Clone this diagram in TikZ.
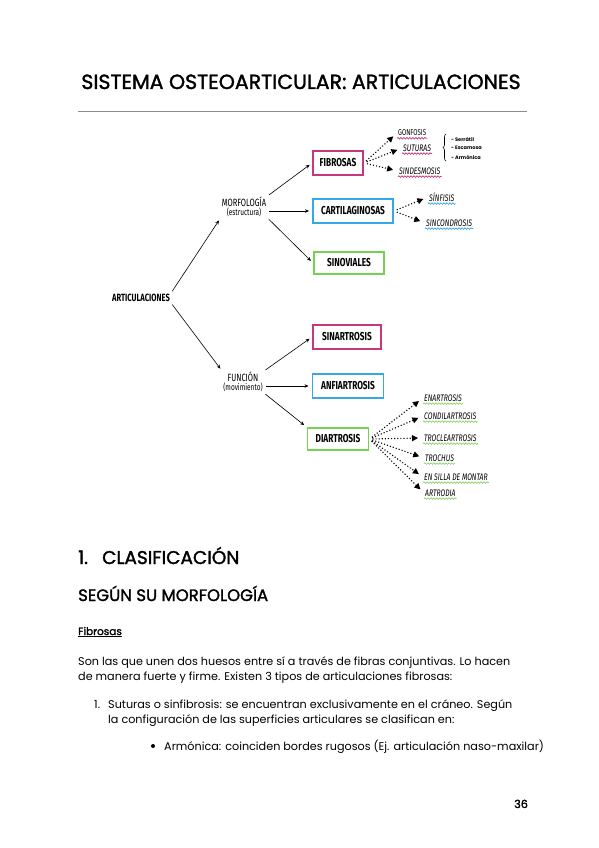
\documentclass[tikz,border=0pt]{standalone}
\usepackage{fontspec}
\setmainfont{Poppins}
\newfontfamily\medfont[FakeBold=1.6]{Poppins}
\newfontfamily\diagfont[FakeStretch=0.72]{Fira Sans}
\usepackage{tikz}
\usetikzlibrary{positioning,arrows.meta,decorations.pathmorphing,decorations.pathreplacing}
\definecolor{fuc}{HTML}{C8367E}
\definecolor{cel}{HTML}{35A9E8}
\definecolor{ver}{HTML}{74D24F}
\definecolor{verclaro}{HTML}{8BD86A}

\begin{document}
\begin{tikzpicture}[x=1pt,y=-1pt,
  caja/.style={draw=#1,line width=1.9pt,font=\diagfont\bfseries\fontsize{11.5}{12}\selectfont,inner xsep=3pt,minimum height=24pt},
  rama/.style={font=\diagfont\fontsize{10.5}{10}\selectfont,align=center,inner sep=1pt},
  tipo/.style={font=\diagfont\itshape\fontsize{9.5}{10}\selectfont,inner sep=1pt,anchor=west},
  flecha/.style={-{Stealth[length=4pt,width=3.5pt]},line width=0.6pt,shorten >=3pt,shorten <=2pt},
  punteada/.style={dotted,line width=1.1pt,-{Triangle[length=6pt,width=6pt]},shorten >=5pt,shorten <=3pt},
  onda/.style={draw=#1,line width=0.7pt,decorate,decoration={snake,amplitude=0.8pt,segment length=3pt}},
  mini/.style={anchor=west,inner sep=0pt,font=\fontsize{5}{6}\selectfont\bfseries},
  texto/.style={anchor=base west,inner sep=0pt,font=\fontsize{11.2}{13}\selectfont}]
  \fill[white] (0,0) rectangle (599,848);
  \useasboundingbox (0,0) rectangle (599,848);
  % encabezado
  \node[anchor=base,font=\medfont\fontsize{20.5}{24}\selectfont,inner sep=0pt] (titulo) at (301,89) {SISTEMA OSTEOARTICULAR: ARTICULACIONES};
  \draw[black!45,line width=0.9pt] (78,111) -- (527,111);
  % esquema
  \node[font=\diagfont\bfseries\fontsize{10.5}{11}\selectfont,inner sep=1pt] (art) at (141,298) {ARTICULACIONES};
  \node[rama] (mor) at (244,207) {MORFOLOGÍA\\[-1.5pt]{\fontsize{9}{9}\selectfont(estructura)}};
  \node[rama] (fun) at (243,382) {FUNCIÓN\\[-1.5pt]{\fontsize{9}{9}\selectfont(movimiento)}};
  \node[caja=fuc,minimum width=50pt] (fib) at (338,163) {FIBROSAS};
  \node[caja=cel,minimum width=80pt] (car) at (353,211) {CARTILAGINOSAS};
  \node[caja=ver,minimum width=70pt,minimum height=22pt] (sinov) at (349,263) {SINOVIALES};
  \node[caja=fuc,minimum width=68pt] (sinar) at (347,337) {SINARTROSIS};
  \node[caja=cel,minimum width=71pt] (anf) at (348,386) {ANFIARTROSIS};
  \node[caja=ver,minimum width=61pt,minimum height=22pt] (dia) at (338,439) {DIARTROSIS};
  \draw[flecha] (art.north east) -- (mor.south west);
  \draw[flecha] (art.south east) -- (fun.north west);
  \draw[flecha] (mor.north east) -- (fib.west);
  \draw[flecha] (mor.east |- car.west) -- (car.west);
  \draw[flecha] (mor.south east) -- (sinov.west);
  \draw[flecha] (fun.north east) -- (sinar.west);
  \draw[flecha] (fun.east |- anf.west) -- (anf.west);
  \draw[flecha] (fun.south east) -- (dia.north west);
  % tipos de fibrosas
  \node[tipo,font=\diagfont\fontsize{8.5}{9}\selectfont] (gon) at (397,133) {GONFOSIS};
  \node[tipo] (sut) at (402,148) {SUTURAS};
  \node[tipo] (sind) at (398,171) {SINDESMOSIS};
  \draw[decorate,decoration={brace,amplitude=3pt},line width=0.6pt] (446,161) -- (446,134);
  \node[mini] (ser) at (451,139) {- Serrátil};
  \node[mini] (esc) at (451,148) {- Escamosa};
  \node[mini] (arm) at (451,157) {- Armónica};
  \foreach \n in {gon,sut,sind}{
    \draw[onda=fuc] ([yshift=-1pt]\n.south west) -- ([yshift=-1pt]\n.south east);
    \draw[punteada] (fib.east) -- (\n.west);}
  % tipos de cartilaginosas
  \node[tipo] (sinf) at (428,197) {SÍNFISIS};
  \node[tipo] (sinc) at (425,223) {SINCONDROSIS};
  \foreach \n in {sinf,sinc}{
    \draw[onda=cel] ([yshift=-1pt]\n.south west) -- ([yshift=-1pt]\n.south east);
    \draw[punteada] (car.east) -- (\n.west);}
  % tipos de diartrosis
  \node[tipo] (ena) at (423,398) {ENARTROSIS};
  \node[tipo] (con) at (423,416) {CONDILARTROSIS};
  \node[tipo] (tro) at (423,438) {TROCLEARTROSIS};
  \node[tipo] (trc) at (424,458) {TROCHUS};
  \node[tipo] (sil) at (423,477) {EN SILLA DE MONTAR};
  \node[tipo] (atr) at (424,493) {ARTRODIA};
  \foreach \n in {ena,con,tro,trc,sil,atr}{
    \draw[onda=verclaro] ([yshift=-1pt]\n.south west) -- ([yshift=-1pt]\n.south east);
    \draw[punteada] (dia.east) -- (\n.west);}
  % texto
  \node[texto,font=\medfont\fontsize{18.5}{20}\selectfont] (num) at (78,564) {1.};
  \node[texto,font=\medfont\fontsize{18.5}{20}\selectfont] (clas) at (102,564) {CLASIFICACIÓN};
  \node[texto,font=\medfont\fontsize{16.5}{20}\selectfont] (seg) at (78,601) {SEGÚN SU MORFOLOGÍA};
  \node[texto,font=\medfont\fontsize{10.5}{13}\selectfont] (fibt) at (78,635) {\underline{Fibrosas}};
  \node[texto] (p1) at (78,665) {Son las que unen dos huesos entre sí a través de fibras conjuntivas. Lo hacen};
  \node[texto] (p2) at (78,680) {de manera fuerte y firme. Existen 3 tipos de articulaciones fibrosas:};
  \node[texto] (n1) at (94,708) {1.};
  \node[texto] (p3) at (108,708) {Suturas o sinfibrosis: se encuentran exclusivamente en el cráneo. Según};
  \node[texto] (p4) at (108,723) {la configuración de las superficies articulares se clasifican en:};
  \fill (153,746) circle (2pt);
  \node[texto] (p5) at (164,750) {Armónica: coinciden bordes rugosos (Ej. articulación naso-maxilar)};
  \node[texto,font=\medfont\fontsize{11.2}{13}\selectfont] (pag) at (514,808) {36};
\end{tikzpicture}
\end{document}
